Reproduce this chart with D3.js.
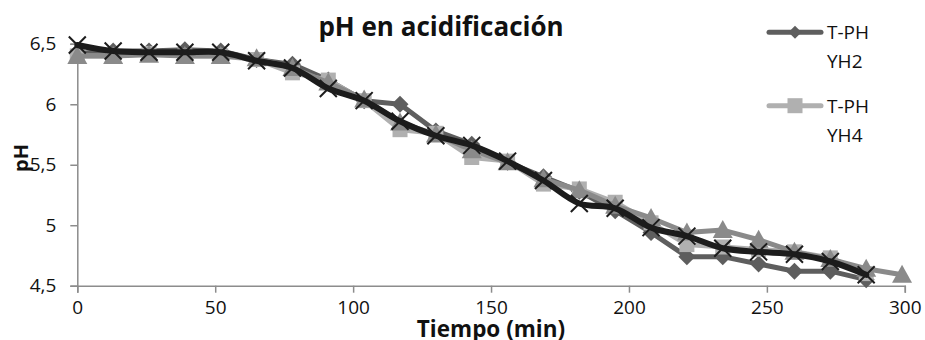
<!DOCTYPE html>
<html>
<head>
<meta charset="utf-8">
<script src="https://cdn.jsdelivr.net/npm/d3@7"></script>
<style>
  html, body { margin: 0; padding: 0; background: #fff; }
  svg { display: block; }
</style>
</head>
<body>
<svg id="chart" width="925" height="340"></svg>
<script>
// Sampling times (min)
const minutes = [0, 13, 26, 39, 52, 65, 78, 91, 104, 117, 130, 143, 156, 169, 182, 195, 208, 221, 234, 247, 260, 273, 286, 299];

// pH readings per run
const phYH2 = [6.42, 6.44, 6.44, 6.45, 6.44, 6.37, 6.33, 6.20, 6.03, 6.00, 5.78, 5.67, 5.52, 5.40, 5.28, 5.12, 4.94, 4.74, 4.74, 4.68, 4.62, 4.62, 4.55];
const phYH4 = [6.40, 6.40, 6.42, 6.40, 6.40, 6.37, 6.26, 6.20, 6.03, 5.79, 5.76, 5.56, 5.53, 5.34, 5.30, 5.19, 5.02, 4.84, 4.82, 4.80, 4.78, 4.73, 4.60];
const phRun3 = [6.40, 6.40, 6.41, 6.40, 6.40, 6.38, 6.30, 6.18, 6.04, 5.85, 5.75, 5.62, 5.52, 5.38, 5.29, 5.16, 5.06, 4.94, 4.96, 4.88, 4.78, 4.72, 4.64, 4.59];
const phRun4 = [6.49, 6.44, 6.43, 6.43, 6.43, 6.36, 6.30, 6.13, 6.03, 5.86, 5.74, 5.66, 5.53, 5.37, 5.18, 5.14, 4.98, 4.91, 4.81, 4.78, 4.76, 4.70, 4.59];

const seriesNames = ["T-PH YH2", "T-PH YH4"];
const xTicks = [0, 50, 100, 150, 200, 250, 300];
const yTicks = [4.5, 5, 5.5, 6, 6.5];

const svg = d3.select("#chart");
const FONT = "'Open Sans', 'Noto Sans', sans-serif";

const x = d3.scaleLinear().domain([0, 300]).range([77.3, 904.8]);
const y = d3.scaleLinear().domain([4.5, 6.5]).range([285.7, 43.8]);

const fmt = v => String(v).replace(".", ",");

// Axes
const axisColor = "#8c8c8c";
const xAxis = svg.append("g")
  .attr("transform", `translate(0,${y(4.5)})`)
  .call(d3.axisBottom(x).tickValues(xTicks).tickSize(7).tickPadding(8).tickFormat(d => d));
const yAxis = svg.append("g")
  .attr("transform", `translate(${x(0)},0)`)
  .call(d3.axisLeft(y).tickValues(yTicks).tickSize(7).tickPadding(14).tickFormat(fmt));

[xAxis, yAxis].forEach(g => {
  g.select(".domain").attr("stroke", axisColor).attr("stroke-width", 1.5);
  g.selectAll(".tick line").attr("stroke", axisColor).attr("stroke-width", 1.5);
  g.selectAll(".tick text")
    .attr("fill", "#111")
    .style("font-family", FONT)
    .style("font-size", "19px");
});

// Series
const series = [
  { vals: phYH2, color: "#5e5e5e", width: 5, marker: "diamond", curve: d3.curveLinear },
  { vals: phYH4, color: "#b0b0b0", width: 5, marker: "square", curve: d3.curveLinear },
  { vals: phRun3, color: "#8a8a8a", width: 5, marker: "triangle", curve: d3.curveLinear },
  { vals: phRun4, color: "#1c1c1c", width: 6, marker: "cross", curve: d3.curveCatmullRom.alpha(0.5) }
];

function drawMarker(g, kind, color) {
  if (kind === "diamond") {
    g.append("path").attr("d", "M0,-8.5L8.5,0L0,8.5L-8.5,0Z").attr("fill", color);
  } else if (kind === "square") {
    g.append("rect").attr("x", -7.5).attr("y", -7.5).attr("width", 15).attr("height", 15).attr("fill", color);
  } else if (kind === "triangle") {
    g.append("path").attr("d", "M0,-10L10,8L-10,8Z").attr("fill", color);
  } else {
    g.append("path").attr("d", "M-8.5,-8.5L8.5,8.5M8.5,-8.5L-8.5,8.5")
      .attr("stroke", color).attr("stroke-width", 2).attr("fill", "none");
  }
}

series.forEach(s => {
  const pts = s.vals.map((v, i) => [minutes[i], v]);
  const line = d3.line().x(d => x(d[0])).y(d => y(d[1])).curve(s.curve);
  const g = svg.append("g");
  g.append("path")
    .attr("d", line(pts))
    .attr("fill", "none")
    .attr("stroke", s.color)
    .attr("stroke-width", s.width)
    .attr("stroke-linejoin", "round")
    .attr("stroke-linecap", "round");
  pts.forEach(p => {
    const m = g.append("g").attr("transform", `translate(${x(p[0])},${y(p[1])})`);
    drawMarker(m, s.marker, s.color);
  });
});

// Title
svg.append("text")
  .attr("x", 441).attr("y", 36)
  .attr("text-anchor", "middle")
  .style("font-family", FONT).style("font-size", "26px").style("font-weight", "bold")
  .attr("fill", "#111")
  .text("pH en acidificación");

// Axis titles
svg.append("text")
  .attr("x", 491).attr("y", 337)
  .attr("text-anchor", "middle")
  .style("font-family", FONT).style("font-size", "22.5px").style("font-weight", "bold")
  .attr("fill", "#111")
  .text("Tiempo (min)");

svg.append("text")
  .attr("transform", "translate(28,158) rotate(-90)")
  .attr("text-anchor", "middle")
  .style("font-family", FONT).style("font-size", "20px").style("font-weight", "bold")
  .attr("fill", "#111")
  .text("pH");

// Legend
const legend = svg.append("g");
[series[0], series[1]].forEach((s, i) => {
  const ly = 32.3 + i * 73.4;
  const g = legend.append("g");
  g.append("line")
    .attr("x1", 769).attr("x2", 821).attr("y1", ly).attr("y2", ly)
    .attr("stroke", s.color).attr("stroke-width", 5).attr("stroke-linecap", "round");
  const m = g.append("g").attr("transform", `translate(795,${ly})`);
  if (s.marker === "diamond") {
    m.append("path").attr("d", "M0,-6.5L6.5,0L0,6.5L-6.5,0Z").attr("fill", s.color);
  } else {
    m.append("rect").attr("x", -7.5).attr("y", -7.5).attr("width", 15).attr("height", 15).attr("fill", s.color);
  }
  const parts = seriesNames[i].split(" ");
  parts.forEach((p, j) => {
    g.append("text")
      .attr("x", 827).attr("y", ly + 7 + j * 29)
      .style("font-family", FONT).style("font-size", "19px")
      .attr("fill", "#111")
      .text(p);
  });
});
</script>
</body>
</html>
